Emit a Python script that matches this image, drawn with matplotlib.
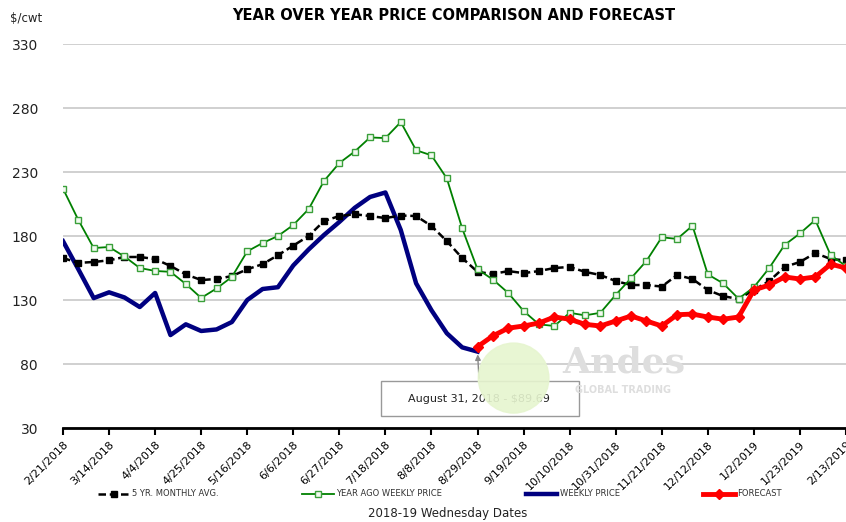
import numpy as np
import matplotlib
matplotlib.use("Agg")
import matplotlib.pyplot as plt
from matplotlib.patches import Rectangle, Ellipse

# weekly Wednesdays, 2/21/2018 .. 2/13/2019 (52 weeks)
tick_labels = ["2/21/2018", "3/14/2018", "4/4/2018", "4/25/2018", "5/16/2018",
               "6/6/2018", "6/27/2018", "7/18/2018", "8/8/2018", "8/29/2018",
               "9/19/2018", "10/10/2018", "10/31/2018", "11/21/2018",
               "12/12/2018", "1/2/2019", "1/23/2019", "2/13/2019"]

five_yr_avg = [162.8, 159, 159.7, 161, 163.6, 163.6, 162, 156.6, 150, 145.6,
               146.4, 148.7, 154, 158, 165, 172.5, 180, 191.7, 195.6, 197,
               195.6, 194, 196, 195.6, 187.8, 176, 162.8, 152, 150.3, 152.6,
               151, 152.6, 155, 155.8, 152, 149.5, 144.8, 141.7, 141.7, 140.5,
               149.5, 146.4, 137.8, 133, 130.8, 137.8, 144.8, 155.8, 159.7, 166.7,
               162, 161]

year_ago = [217, 192.5, 170.6, 171.4, 164, 155, 152.7, 152, 142.5, 131.6,
            139, 148, 168, 174.5, 180, 188.6, 201, 223, 237, 246,
            257, 256.5, 269, 247, 243, 225, 186, 154, 146, 135.5,
            121.4, 111, 109.7, 120, 118, 120, 134, 147, 160.5, 179,
            177.7, 188, 150, 143, 131, 140, 155, 173, 182, 192.5,
            165, 156.5]

# actual weekly price up to 8/29/2018
weekly = [176, 154, 131.5, 136, 132, 124.5, 135.5, 102.6, 111, 105.8,
          107, 112.8, 130, 138.6, 140, 157, 169.5, 180.8, 191, 202,
          210.5, 214, 184.7, 143, 122, 104, 93, 89.69]

# forecast from 8/29/2018 on
forecast = [93.5, 102, 108, 109.7, 112, 116.7, 115, 111, 109.7, 113.6,
            117.5, 113.6, 109.7, 118.5, 119, 116.7, 115, 116.7, 137.8, 141.7,
            148, 146.4, 148, 158, 155]

weeks = np.arange(len(five_yr_avg))
start_fc = len(weekly) - 1

fig = plt.figure(figsize=(8.46, 5.22), dpi=100)
ax = fig.add_axes([63 / 846, 1 - 428 / 522, 783 / 846, 384 / 522])

ax.plot(weeks[:len(weekly)], weekly, color="#000080", lw=3.2,
        solid_joinstyle="round", label="WEEKLY PRICE", zorder=3)
ax.plot(weeks, five_yr_avg, color="black", lw=1.8, ls=(0, (3, 1.5)),
        marker="s", ms=4.5, label="5 YR. MONTHLY AVG.", zorder=4)
ax.plot(weeks, year_ago, color="#008000", lw=1.3, marker="s", ms=5,
        mfc="#f2faf0", mec="#3aa03a", mew=1.0, label="YEAR AGO WEEKLY PRICE", zorder=5)
ax.plot(weeks[start_fc:], forecast, color="#ff0000", lw=3.5, marker="D",
        ms=5.5, label="FORECAST", zorder=6)

ax.set_xlim(0, 51)
ax.set_ylim(30, 330)
ax.set_yticks(range(30, 331, 50))
ax.set_xticks(range(0, 52, 3))
ax.set_xticklabels(tick_labels, rotation=45, ha="right", rotation_mode="anchor",
                   fontsize=8)
ax.tick_params(axis="y", length=0, pad=18, labelsize=10, labelcolor="#222222")
ax.tick_params(axis="x", length=5, width=1.5, color="black", pad=3)
ax.grid(axis="y", color="#c8c8c8", lw=1.2)
ax.set_axisbelow(True)
for s in ["top", "right", "left"]:
    ax.spines[s].set_visible(False)
ax.spines["bottom"].set_linewidth(2)

# annotation box + arrow to last actual price
ax.add_patch(Rectangle((20.7, 39.4), 12.9, 27.3, fill=False, ec="#999999",
                       lw=1, zorder=2))
ax.annotate("", xy=(27, 89.69), xytext=(27.1, 66.7),
            arrowprops=dict(arrowstyle="-|>", color="#888888", lw=1,
                            mutation_scale=8), zorder=2)
ax.text(27.1, 53, "August 31, 2018 - $89.69", ha="center", va="center",
        fontsize=8, color="#222222", zorder=2)

# faint watermark logo
ax.add_patch(Ellipse((29.35, 69), 4.6, 54.7, color="#e6f5cf", alpha=0.9,
                     zorder=2.5))
ax.text(36.5, 81, "Andes", fontsize=26, family="DejaVu Serif", fontweight="bold",
        color="#dedede", ha="center", va="center", zorder=2.5)
ax.text(36.5, 60, "GLOBAL TRADING", fontsize=7, fontweight="bold",
        color="#dedede", ha="center", va="center", zorder=2.5)

fig.text(10 / 846, 1 - 18 / 522, "$/cwt", fontsize=8.5, va="center", color="#222222")
fig.text(454 / 846, 1 - 16 / 522, "YEAR OVER YEAR PRICE COMPARISON AND FORECAST",
         fontsize=10.5, fontweight="bold", ha="center", va="center")
fig.text(448 / 846, 1 - 514 / 522, "2018-19 Wednesday Dates", fontsize=8.5,
         ha="center", va="center", color="#222222")

h, l = ax.get_legend_handles_labels()
order = [1, 2, 0, 3]
fig.legend([h[i] for i in order], [l[i] for i in order], ncol=4,
           loc="center", bbox_to_anchor=(440 / 846, 1 - 494 / 522),
           frameon=False, fontsize=6, numpoints=1, handlelength=3.8,
           handletextpad=0.3, columnspacing=10, labelcolor="#333333")

fig.savefig("out.png", dpi=100)
